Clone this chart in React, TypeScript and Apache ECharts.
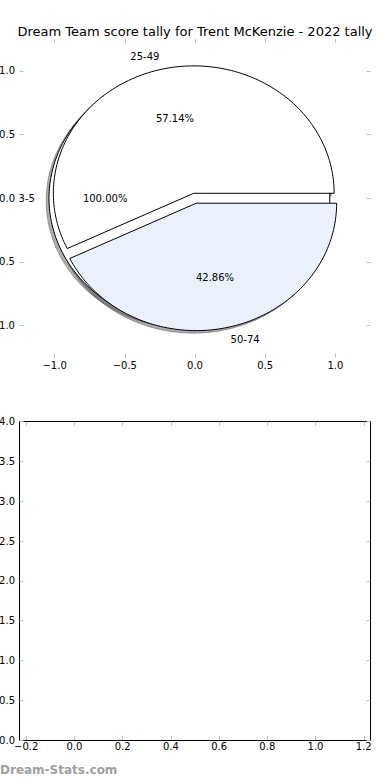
import React, { useEffect, useRef } from "react";
import * as echarts from "echarts";

// ---- data ----
const TITLE = "Dream Team score tally for Trent McKenzie - 2022 tally";
const PIE1_LABELS = ["3-5"];
const PIE1_VALUES = [1];
const PIE2_LABELS = ["25-49", "50-74"];
const PIE2_VALUES = [4, 3];
const TOP_X_TICKS = [-1.0, -0.5, 0.0, 0.5, 1.0];
const TOP_Y_TICKS = [-1.0, -0.5, 0.0, 0.5, 1.0];
const BOTTOM_X_TICKS = [-0.2, 0.0, 0.2, 0.4, 0.6, 0.8, 1.0, 1.2];
const WATERMARK = "Dream-Stats.com";

// ---- styles ----
const PIE1_COLORS = ["#ffffff"];
const PIE2_COLORS = ["#ffffff", "#eaf0fc"];
const EXPLODE = 0.04;
const LABEL_DIST = 1.1;
const PCT_DIST = 0.6;
const SHADOW_OFF = 0.02;
const FONT = "DejaVu Sans";
const TICK_COLOR = "#bdbdbd";

type Wedge = {
  t1: number;
  t2: number;
  ox: number;
  oy: number;
  color: string;
  label: string;
  pct: string;
  full: boolean;
};

function buildWedges(labels: string[], values: number[], colors: string[]): Wedge[] {
  const total = values.reduce((a, b) => a + b, 0);
  let acc = 0;
  return values.map((v, i) => {
    const t1 = (acc / total) * 360;
    acc += v;
    const t2 = (acc / total) * 360;
    const tm = ((t1 + t2) / 2) * (Math.PI / 180);
    return {
      t1,
      t2,
      ox: EXPLODE * Math.cos(tm),
      oy: EXPLODE * Math.sin(tm),
      color: colors[i % colors.length],
      label: labels[i],
      pct: ((v / total) * 100).toFixed(2) + "%",
      full: t2 - t1 >= 359.999,
    };
  });
}

const WEDGES1 = buildWedges(PIE1_LABELS, PIE1_VALUES, PIE1_COLORS);
const WEDGES2 = buildWedges(PIE2_LABELS, PIE2_VALUES, PIE2_COLORS);
const ALL_WEDGES = [...WEDGES1, ...WEDGES2];

function wedgePoints(api: any, w: Wedge, dx: number, dy: number) {
  const pts: number[][] = [];
  if (!w.full) pts.push(api.coord([w.ox + dx, w.oy + dy]));
  const n = Math.max(4, Math.ceil((w.t2 - w.t1) / 1.5));
  for (let i = 0; i <= n; i++) {
    const t = ((w.t1 + ((w.t2 - w.t1) * i) / n) * Math.PI) / 180;
    pts.push(api.coord([w.ox + dx + Math.cos(t), w.oy + dy + Math.sin(t)]));
  }
  return pts;
}

function shadowColor(hex: string) {
  const r = parseInt(hex.slice(1, 3), 16);
  const g = parseInt(hex.slice(3, 5), 16);
  const b = parseInt(hex.slice(5, 7), 16);
  return `rgba(${Math.round(r * 0.3)},${Math.round(g * 0.3)},${Math.round(b * 0.3)},0.45)`;
}

const fmt = (v: number) => v.toFixed(1).replace("-", "\u2212");

function wedgeSeries(list: Wedge[], kind: "shadow" | "wedge" | "text") {
  return {
    type: "custom",
    coordinateSystem: "cartesian2d",
    xAxisIndex: 0,
    yAxisIndex: 0,
    clip: false,
    silent: true,
    data: list.map((w) => [w.ox, w.oy]),
    encode: { x: 0, y: 1 },
    renderItem: (params: any, api: any) => {
      const w = list[params.dataIndex];
      if (kind === "shadow") {
        const c = shadowColor(w.color);
        return {
          type: "polygon",
          shape: { points: wedgePoints(api, w, -SHADOW_OFF, -SHADOW_OFF) },
          style: { fill: c, stroke: c, lineWidth: 1 },
        };
      }
      if (kind === "wedge") {
        return {
          type: "polygon",
          shape: { points: wedgePoints(api, w, 0, 0) },
          style: { fill: w.color, stroke: "#000", lineWidth: 1, lineJoin: "miter" },
        };
      }
      const tm = (((w.t1 + w.t2) / 2) * Math.PI) / 180;
      const lx = w.ox + LABEL_DIST * Math.cos(tm);
      const ly = w.oy + LABEL_DIST * Math.sin(tm);
      const px = w.ox + PCT_DIST * Math.cos(tm);
      const py = w.oy + PCT_DIST * Math.sin(tm);
      const lp = api.coord([lx, ly]);
      const pp = api.coord([px, py]);
      return {
        type: "group",
        children: [
          {
            type: "text",
            x: lp[0],
            y: lp[1],
            style: {
              text: w.label,
              fill: "#000",
              font: `10px "${FONT}"`,
              align: lx > 0 ? "left" : "right",
              verticalAlign: "middle",
            },
          },
          {
            type: "text",
            x: pp[0],
            y: pp[1],
            style: {
              text: w.pct,
              fill: "#000",
              font: `10px "${FONT}"`,
              align: "center",
              verticalAlign: "middle",
            },
          },
        ],
      };
    },
  };
}

const tickStyle = { show: true, inside: true, length: 4, lineStyle: { color: TICK_COLOR, width: 1 } };
const labelStyle = { color: "#000", fontSize: 10, fontFamily: FONT };
const hiddenLine = { show: true, onZero: false, lineStyle: { color: "rgba(0,0,0,0)", width: 1 } };
const blackLine = { show: true, onZero: false, lineStyle: { color: "#000", width: 1 } };

export default function App() {
  const ref = useRef<HTMLDivElement>(null);
  useEffect(() => {
    if (!ref.current) return;
    const chart = echarts.init(ref.current, undefined, { renderer: "svg" });
    const option: any = {
      animation: false,
      backgroundColor: "#ffffff",
      title: {
        text: TITLE,
        left: "center",
        top: 20,
        textStyle: { fontFamily: FONT, fontSize: 13, fontWeight: "normal", color: "#000" },
      },
      grid: [
        { left: 19.5, right: 19.5, top: 39, height: 318.5, containLabel: false, outerBoundsMode: "none" },
        { left: 19.5, right: 19.5, top: 421.7, height: 318.3, containLabel: false, outerBoundsMode: "none" },
      ],
      xAxis: [
        {
          type: "value",
          gridIndex: 0,
          position: "bottom",
          min: -1.25,
          max: 1.25,
          axisLine: hiddenLine,
          axisTick: { ...tickStyle, customValues: TOP_X_TICKS },
          axisLabel: { ...labelStyle, margin: 3, customValues: TOP_X_TICKS, formatter: fmt },
          splitLine: { show: false },
        },
        {
          type: "value",
          gridIndex: 0,
          position: "top",
          min: -1.25,
          max: 1.25,
          axisLine: hiddenLine,
          axisTick: { ...tickStyle, customValues: TOP_X_TICKS },
          axisLabel: { show: false },
          splitLine: { show: false },
        },
        {
          type: "value",
          gridIndex: 1,
          position: "bottom",
          min: -0.228,
          max: 1.228,
          axisLine: blackLine,
          axisTick: { ...tickStyle, customValues: BOTTOM_X_TICKS },
          axisLabel: { ...labelStyle, margin: 1, customValues: BOTTOM_X_TICKS, formatter: fmt },
          splitLine: { show: false },
        },
        {
          type: "value",
          gridIndex: 1,
          position: "top",
          min: -0.228,
          max: 1.228,
          axisLine: blackLine,
          axisTick: { ...tickStyle, customValues: BOTTOM_X_TICKS },
          axisLabel: { show: false },
          splitLine: { show: false },
        },
      ],
      yAxis: [
        {
          type: "value",
          gridIndex: 0,
          position: "left",
          min: -1.25,
          max: 1.25,
          axisLine: hiddenLine,
          axisTick: { ...tickStyle, customValues: TOP_Y_TICKS },
          axisLabel: { ...labelStyle, margin: 4.5, customValues: TOP_Y_TICKS, formatter: fmt },
          splitLine: { show: false },
        },
        {
          type: "value",
          gridIndex: 0,
          position: "right",
          min: -1.25,
          max: 1.25,
          axisLine: hiddenLine,
          axisTick: { ...tickStyle, customValues: TOP_Y_TICKS },
          axisLabel: { show: false },
          splitLine: { show: false },
        },
        {
          type: "value",
          gridIndex: 1,
          position: "left",
          min: 0,
          max: 4,
          interval: 0.5,
          axisLine: blackLine,
          axisTick: tickStyle,
          axisLabel: { ...labelStyle, margin: 4.5, formatter: fmt },
          splitLine: { show: false },
        },
        {
          type: "value",
          gridIndex: 1,
          position: "right",
          min: 0,
          max: 4,
          interval: 0.5,
          axisLine: blackLine,
          axisTick: tickStyle,
          axisLabel: { show: false },
          splitLine: { show: false },
        },
      ],
      graphic: [
        {
          type: "text",
          left: 0,
          top: 764,
          style: {
            text: WATERMARK,
            fill: "#a0a0a0",
            font: `bold 12px "${FONT}"`,
          },
        },
      ],
      series: [
        wedgeSeries(ALL_WEDGES, "shadow"),
        wedgeSeries(WEDGES1, "wedge"),
        wedgeSeries(WEDGES2, "wedge"),
        wedgeSeries(ALL_WEDGES, "text"),
        { type: "line", xAxisIndex: 2, yAxisIndex: 2, data: [], silent: true },
      ],
    };
    chart.setOption(option);
    return () => chart.dispose();
  }, []);
  return (
    <div
      ref={ref}
      style={{ position: "absolute", left: 0, top: 0, width: 390, height: 780 }}
    />
  );
}
